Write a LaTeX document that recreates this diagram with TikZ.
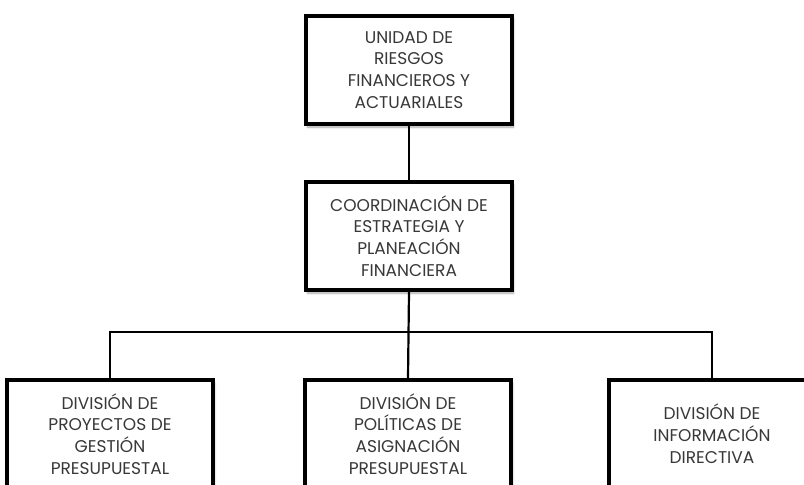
\documentclass[tikz,border=0pt]{standalone}
\usepackage{fontspec}
\setmainfont{Poppins}
\usetikzlibrary{shadows.blur}
\begin{document}
\begin{tikzpicture}[x=1pt,y=-1pt,
  boxframe/.style={draw=black, line width=3.8pt, fill=white, minimum width=206pt,
    blur shadow={shadow xshift=1.5pt, shadow yshift=-3pt, shadow opacity=35, shadow blur steps=6}},
  boxtext/.style={align=center, text=black!78, font=\fontsize{17}{21.8}\selectfont},
  box/.style={boxframe, boxtext, minimum height=108pt},
  lowbox/.style={boxframe, minimum height=150pt, anchor=north, label={[boxtext, yshift=21pt]center:#1}},
  link/.style={draw=black, line width=2.2pt}]
\useasboundingbox (0,0) rectangle (804,485);
\node[box] (top) at (409,70) {UNIDAD DE\\RIESGOS\\FINANCIEROS Y\\ACTUARIALES};
\node[box] (mid) at (409,236) {COORDINACIÓN DE\\ESTRATEGIA Y\\PLANEACIÓN\\FINANCIERA};
\node[lowbox={DIVISIÓN DE\\PROYECTOS DE\\GESTIÓN\\PRESUPUESTAL}] (b1) at (110,378) {};
\node[lowbox={DIVISIÓN DE\\POLÍTICAS DE\\ASIGNACIÓN\\PRESUPUESTAL}] (b2) at (408,378) {};
\node[lowbox={DIVISIÓN DE\\INFORMACIÓN\\DIRECTIVA}] (b3) at (712,378) {};
\coordinate (bus) at (408,332);
\draw[link] (top.south) -- (mid.north);
\draw[link] (mid.south) -- (b2.north);
\draw[link] (b1.north) |- (bus) -| (b3.north);
\end{tikzpicture}
\end{document}
